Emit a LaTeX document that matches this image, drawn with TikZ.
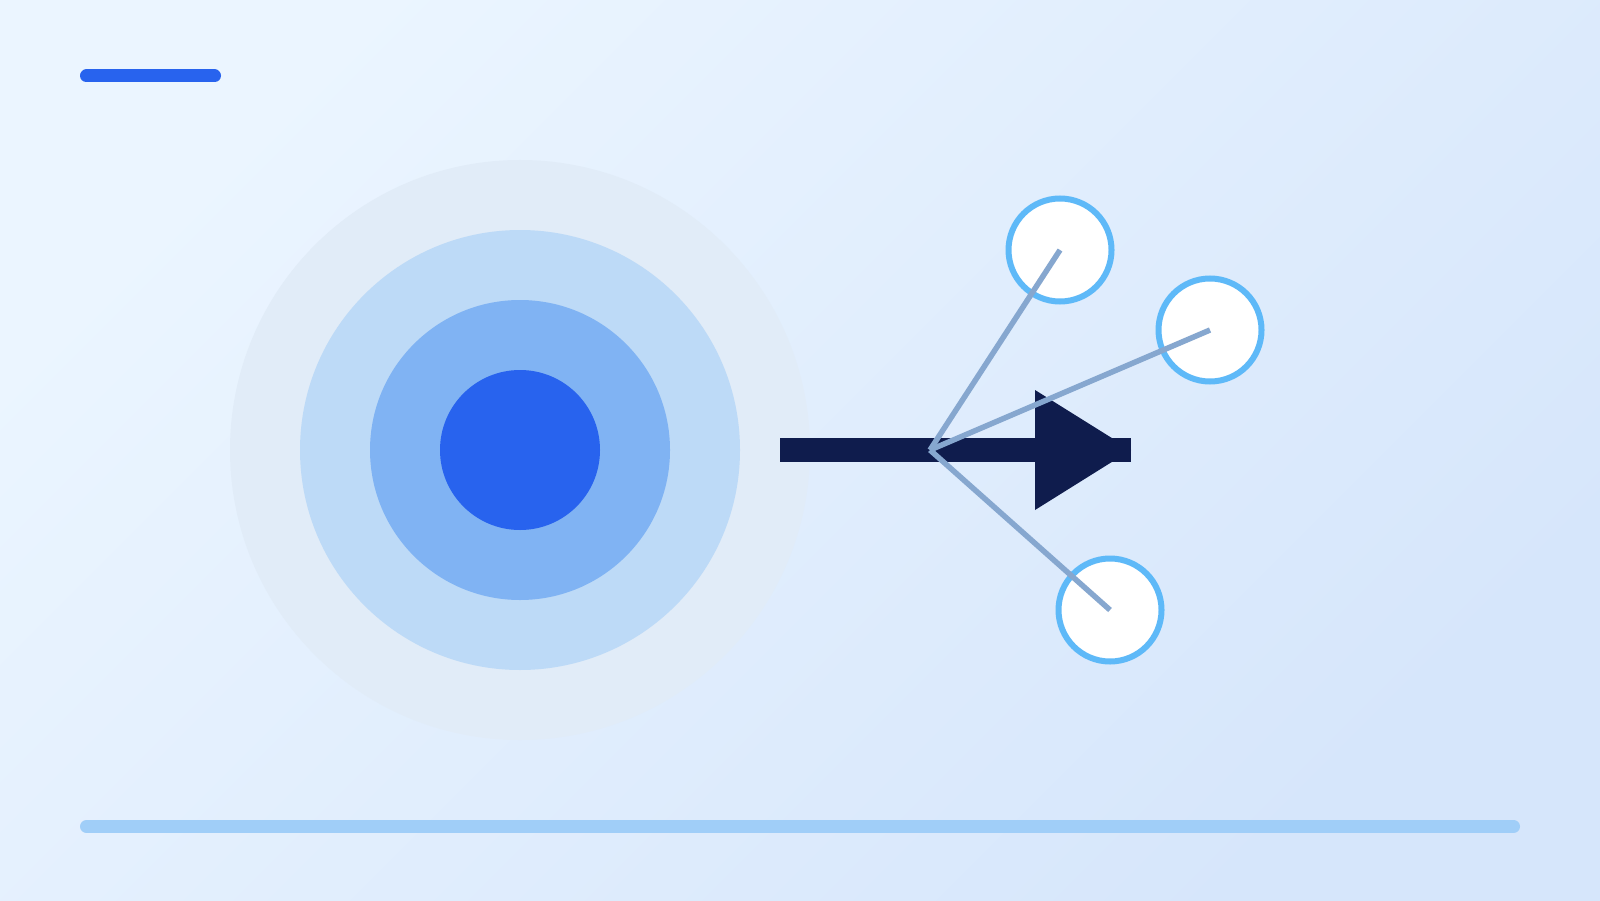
\documentclass[tikz,border=0pt]{standalone}
\usepackage{tikz}
\usetikzlibrary{calc}
\usetikzlibrary{positioning}

\definecolor{bgtop}{HTML}{EBF5FF}
\definecolor{bgbottom}{HTML}{D6E6FB}
\definecolor{ringA}{HTML}{E1ECF8}
\definecolor{ringB}{HTML}{BDDAF7}
\definecolor{ringC}{HTML}{80B3F3}
\definecolor{ringD}{HTML}{2863EE}
\definecolor{navy}{HTML}{0F1C4D}
\definecolor{satedge}{HTML}{5EB9F8}
\definecolor{spoke}{HTML}{86A7CF}
\definecolor{baseblue}{HTML}{A0CEF8}

\begin{document}
\begin{tikzpicture}[
	ring/.style={circle, draw=none, inner sep=0pt, minimum size=#1},
	sat/.style={circle, draw=satedge, line width=0.06cm, fill=white, inner sep=0pt, minimum size=1.03cm},
	spokeline/.style={draw=spoke, line width=0.055cm},
	barline/.style={line width=0.13cm, line cap=round}
]

	\useasboundingbox (0,0) rectangle (16,9);
	\shade[top color=bgtop, bottom color=bgbottom, shading angle=45] (0,0) rectangle (16,9);

	% top tab and base line
	\coordinate (tab_l) at (0.865,8.24);
	\coordinate (tab_r) at (2.145,8.24);
	\draw[barline, ringD] (tab_l) -- (tab_r);
	\coordinate (base_l) at (0.865,0.735);
	\coordinate (base_r) at (15.135,0.735);
	\draw[barline, baseblue] (base_l) -- (base_r);

	% target rings
	\def\x{5.2}
	\def\y{4.5}
	\foreach \r/\c [count=\i, evaluate=\r as \d using 2*\r] in {2.9/ringA, 2.2/ringB, 1.5/ringC, 0.8/ringD}
	{
		\node [ring=\d cm, fill=\c] at (\x,\y) (ring\i){};
	}

	% arrow
	\coordinate (shaft_start) at (7.8,\y);
	\coordinate (shaft_end) at (11.31,\y);
	\coordinate (hub) at (9.3,\y);
	\draw [navy, line width=0.24cm] (shaft_start) -- (shaft_end);
	\fill [navy] ($(shaft_end)+(-0.96,0.6)$) -- (shaft_end) -- ($(shaft_end)+(-0.96,-0.6)$) -- cycle;

	% satellites
	\foreach \sx/\sy [count=\i] in {10.6/6.5, 12.1/5.7, 11.1/2.9}
	{
		\node [sat] at (\sx,\sy) (sat\i){};
	}
	\foreach \i in {1,2,3}
		\draw [spokeline] (hub) -- (sat\i.center);

\end{tikzpicture}
\end{document}
